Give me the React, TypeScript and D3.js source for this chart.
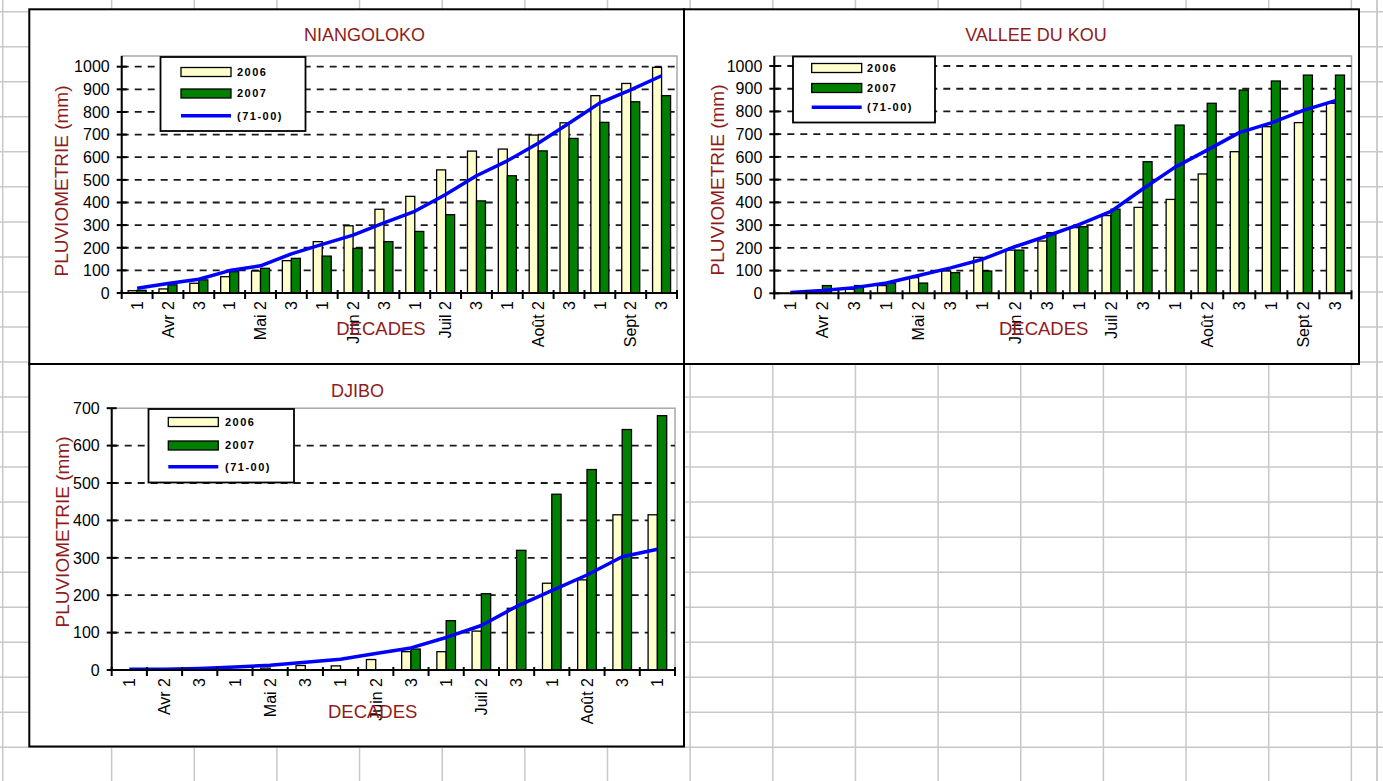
import React from "react";
import * as d3 from "d3";

// ---------- DATA ----------
const catsAprSep = ["1", "Avr 2", "3", "1", "Mai 2", "3", "1", "Juin 2", "3", "1", "Juil 2", "3", "1", "Août 2", "3", "1", "Sept 2", "3"];
const catsAprAug = ["1", "Avr 2", "3", "1", "Mai 2", "3", "1", "Juin 2", "3", "1", "Juil 2", "3", "1", "Août 2", "3", "1"];

const seriesNames = ["2006", "2007", "(71-00)"];

const niangoloko2006 = [10, 18, 43, 72, 97, 143, 227, 297, 370, 427, 544, 627, 636, 698, 752, 872, 926, 997];
const niangoloko2007 = [12, 36, 58, 94, 109, 153, 163, 197, 227, 272, 346, 407, 518, 628, 683, 754, 845, 872];
const niangolokoNorm = [21, 42, 61, 99, 120, 173, 215, 256, 310, 361, 435, 518, 584, 662, 750, 840, 898, 960];

const kou2006 = [0, 3, 18, 34, 69, 98, 158, 190, 230, 289, 342, 378, 413, 525, 623, 733, 751, 836];
const kou2007 = [0, 34, 34, 45, 45, 91, 98, 190, 267, 293, 370, 579, 740, 836, 894, 934, 960, 960];
const kouNorm = [3, 12, 25, 45, 78, 112, 150, 205, 252, 302, 360, 460, 555, 630, 707, 750, 805, 848];

const djibo2006 = [0, 0, 0, 0, 5, 12, 11, 28, 49, 49, 104, 165, 232, 241, 415, 415];
const djibo2007 = [0, 0, 0, 0, 0, 0, 0, 0, 56, 132, 204, 320, 470, 536, 643, 680];
const djiboNorm = [2, 2, 4, 8, 13, 21, 29, 44, 59, 87, 119, 170, 212, 254, 303, 323];

const ticks1000 = [0, 100, 200, 300, 400, 500, 600, 700, 800, 900, 1000];
const ticks700 = [0, 100, 200, 300, 400, 500, 600, 700];

// ---------- STYLE ----------
const FONT = "Arial, 'Liberation Sans', sans-serif";
const RED = "#8e1c1c";
const CREAM = "#FFFFCC";
const GREEN = "#008000";
const BLUE = "#0000FF";

type Layout = {
  frame: { x: number; y: number; w: number; h: number };
  title: string;
  titleX: number;
  titleY: number;
  left: number;
  right: number;
  top: number;
  zeroY: number;
  refVal: number;
  refY: number;
  barW: number;
  yTitleX: number;
  yTitleY: number;
  xTitleX: number;
  xTitleY: number;
  legend: { x: number; y: number; w: number; h: number; sx: number; tx: number; rows: number[] };
};

const L1: Layout = {
  frame: { x: 29.3, y: 9.3, w: 654.7, h: 354.7 },
  title: "NIANGOLOKO",
  titleX: 364.5,
  titleY: 40.7,
  left: 121.7,
  right: 677,
  top: 56,
  zeroY: 293,
  refVal: 1000,
  refY: 66.7,
  barW: 9,
  yTitleX: 61.5,
  yTitleY: 181,
  xTitleX: 381,
  xTitleY: 335,
  legend: { x: 160.5, y: 57, w: 145, h: 74, sx: 181, tx: 237, rows: [72, 93.5, 115.7] },
};

const L2: Layout = {
  frame: { x: 684, y: 9.3, w: 675, h: 354.7 },
  title: "VALLEE DU KOU",
  titleX: 1036,
  titleY: 40.7,
  left: 774.3,
  right: 1351.5,
  top: 56,
  zeroY: 293.3,
  refVal: 1000,
  refY: 66,
  barW: 9,
  yTitleX: 717,
  yTitleY: 180,
  xTitleX: 1043.7,
  xTitleY: 335,
  legend: { x: 793, y: 56.5, w: 142, h: 66, sx: 811.7, tx: 867, rows: [68, 88, 107.3] },
};

const L3: Layout = {
  frame: { x: 29.3, y: 364, w: 654.7, h: 382.5 },
  title: "DJIBO",
  titleX: 357.5,
  titleY: 396.7,
  left: 111.7,
  right: 675,
  top: 408.2,
  zeroY: 670,
  refVal: 700,
  refY: 408.2,
  barW: 9.3,
  yTitleX: 62,
  yTitleY: 532,
  xTitleX: 372.7,
  xTitleY: 717.7,
  legend: { x: 148.5, y: 409, w: 145.5, h: 73.5, sx: 168.3, tx: 225, rows: [422, 445.5, 466.7] },
};

type PanelProps = {
  L: Layout;
  cats: string[];
  a: number[];
  b: number[];
  norm: number[];
  ticks: number[];
};

function Panel({ L, cats, a, b, norm, ticks }: PanelProps) {
  const keys = cats.map((_, i) => String(i));
  const x = d3.scaleBand<string>().domain(keys).range([L.left, L.right]).padding(0);
  const y = d3.scaleLinear().domain([0, L.refVal]).range([L.zeroY, L.refY]);
  const bw = L.barW;
  const cx = (i: number) => (x(String(i)) as number) + x.bandwidth() / 2;

  const line = d3
    .line<number>()
    .x((_, i) => cx(i))
    .y((d) => y(d));

  const boundaries = d3.range(cats.length + 1).map((i) => L.left + i * x.bandwidth());

  return (
    <g>
      <rect x={L.frame.x} y={L.frame.y} width={L.frame.w} height={L.frame.h} fill="#fff" stroke="#000" strokeWidth={2} />
      <text x={L.titleX} y={L.titleY} textAnchor="middle" fontFamily={FONT} fontSize={18} fill={RED}>
        {L.title}
      </text>

      {/* plot area border */}
      <rect x={L.left} y={L.top} width={L.right - L.left} height={L.zeroY - L.top} fill="none" stroke="#a8a8a8" strokeWidth={1.5} />

      {/* gridlines */}
      {ticks
        .filter((t) => t > 0 && y(t) > L.top + 2)
        .map((t) => (
          <line key={"g" + t} x1={L.left} x2={L.right} y1={y(t)} y2={y(t)} stroke="#1a1a1a" strokeWidth={1.8} strokeDasharray="7,6" />
        ))}

      {/* bars */}
      {a.map((v, i) =>
        v > 0 ? (
          <rect key={"a" + i} x={cx(i) - bw} y={y(v)} width={bw} height={L.zeroY - y(v)} fill={CREAM} stroke="#000" strokeWidth={1.3} />
        ) : null
      )}
      {b.map((v, i) =>
        v > 0 ? (
          <rect key={"b" + i} x={cx(i)} y={y(v)} width={bw} height={L.zeroY - y(v)} fill={GREEN} stroke="#000" strokeWidth={1.3} />
        ) : null
      )}

      {/* normal line */}
      <path d={line(norm) || ""} fill="none" stroke={BLUE} strokeWidth={3.5} strokeLinejoin="round" />

      {/* axes */}
      <line x1={L.left} x2={L.left} y1={L.top} y2={L.zeroY} stroke="#000" strokeWidth={2} />
      <line x1={L.left} x2={L.right} y1={L.zeroY} y2={L.zeroY} stroke="#000" strokeWidth={2} />
      {ticks.map((t) => (
        <g key={"yt" + t}>
          <line x1={L.left - 5} x2={L.left + 5} y1={y(t)} y2={y(t)} stroke="#000" strokeWidth={2} />
          <text x={L.left - 12} y={y(t)} dy="0.36em" textAnchor="end" fontFamily={FONT} fontSize={16} fill="#000">
            {t}
          </text>
        </g>
      ))}
      {boundaries.map((bx, i) => (
        <line key={"xt" + i} x1={bx} x2={bx} y1={L.zeroY - 3} y2={L.zeroY + 6} stroke="#000" strokeWidth={2} />
      ))}
      {cats.map((c, i) => (
        <text
          key={"xl" + i}
          transform={`translate(${cx(i)},${L.zeroY + 8}) rotate(-90)`}
          dy="0.36em"
          textAnchor="end"
          fontFamily={FONT}
          fontSize={16}
          fill="#000"
        >
          {c}
        </text>
      ))}

      {/* axis titles */}
      <text
        transform={`translate(${L.yTitleX},${L.yTitleY}) rotate(-90)`}
        dy="0.36em"
        textAnchor="middle"
        fontFamily={FONT}
        fontSize={19}
        fill={RED}
      >
        PLUVIOMETRIE (mm)
      </text>
      <text x={L.xTitleX} y={L.xTitleY} textAnchor="middle" fontFamily={FONT} fontSize={18.5} fill={RED}>
        DECADES
      </text>

      {/* legend */}
      <rect x={L.legend.x} y={L.legend.y} width={L.legend.w} height={L.legend.h} fill="#fff" stroke="#000" strokeWidth={1.8} />
      <rect x={L.legend.sx} y={L.legend.rows[0] - 4.5} width={50} height={9} fill={CREAM} stroke="#000" strokeWidth={1.3} />
      <rect x={L.legend.sx} y={L.legend.rows[1] - 4.5} width={50} height={9} fill={GREEN} stroke="#000" strokeWidth={1.3} />
      <line x1={L.legend.sx} x2={L.legend.sx + 50} y1={L.legend.rows[2]} y2={L.legend.rows[2]} stroke={BLUE} strokeWidth={3.5} />
      {seriesNames.map((s, i) => (
        <text
          key={"lg" + i}
          x={L.legend.tx}
          y={L.legend.rows[i]}
          dy="0.36em"
          fontFamily={FONT}
          fontSize={11}
          fontWeight="bold"
          letterSpacing={1.5}
          fill="#000"
        >
          {s}
        </text>
      ))}
    </g>
  );
}

export default function App() {
  const W = 1383;
  const H = 781;
  const colLines = d3.range(0, 17).map((k) => 111.6 + k * 82.65);
  const rowLines = d3.range(0, 23).map((k) => 11.7 + k * 35.03);
  return (
    <svg width={W} height={H} style={{ position: "absolute", left: 0, top: 0, background: "#fff" }}>
      <rect x={0} y={0} width={W} height={H} fill="#fff" />
      {/* spreadsheet grid */}
      <line x1={2.7} x2={2.7} y1={0} y2={H} stroke="#c8c8c8" strokeWidth={1.5} />
      {colLines.map((cx, i) => (
        <line key={"c" + i} x1={cx} x2={cx} y1={0} y2={H} stroke="#c8c8c8" strokeWidth={1.5} />
      ))}
      <line x1={1377} x2={1377} y1={0} y2={H} stroke="#bdbdbd" strokeWidth={1.5} />
      {rowLines.map((ry, i) => (
        <line key={"r" + i} x1={0} x2={W} y1={ry} y2={ry} stroke="#c8c8c8" strokeWidth={1.5} />
      ))}

      <Panel L={L1} cats={catsAprSep} a={niangoloko2006} b={niangoloko2007} norm={niangolokoNorm} ticks={ticks1000} />
      <Panel L={L2} cats={catsAprSep} a={kou2006} b={kou2007} norm={kouNorm} ticks={ticks1000} />
      <Panel L={L3} cats={catsAprAug} a={djibo2006} b={djibo2007} norm={djiboNorm} ticks={ticks700} />
    </svg>
  );
}
